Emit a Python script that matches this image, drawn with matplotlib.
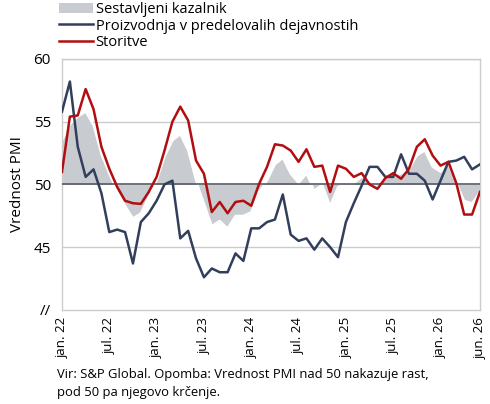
import numpy as np
import matplotlib
matplotlib.use("Agg")
import matplotlib.pyplot as plt

plt.rcParams['font.family'] = ['Open Sans', 'DejaVu Sans']

# monthly PMI, jan. 22 - jun. 26
composite = [53.5, 54.8, 55.4, 55.8, 54.7, 52.4, 50.85, 49.4, 48.3, 47.3,
             47.7, 49.0, 50.3, 52.2, 53.5, 54.0, 52.7, 50.3, 48.5, 46.7,
             47.1, 46.5, 47.5, 47.5, 47.8, 49.4, 50.3, 51.6, 52.1, 50.85,
             50.1, 50.85, 49.5, 50.0, 48.3, 49.8, 50.05, 50.1, 50.6, 50.3,
             49.8, 50.5, 50.7, 50.85, 51.2, 52.3, 52.7, 51.4, 51.0, 51.6,
             50.1, 48.7, 48.5, 49.4]
manufacturing = [55.8, 58.2, 53.0, 50.6, 51.2, 49.3, 46.2, 46.4, 46.2, 43.7,
                 47.0, 47.7, 48.7, 50.0, 50.3, 45.7, 46.3, 44.1, 42.6, 43.3,
                 43.0, 43.0, 44.5, 43.9, 46.5, 46.5, 47.0, 47.2, 49.2, 46.0,
                 45.5, 45.7, 44.8, 45.7, 45.0, 44.2, 47.0, 48.5, 49.9, 51.4,
                 51.4, 50.6, 50.6, 52.4, 50.85, 50.85, 50.3, 48.8, 50.3, 51.8,
                 51.9, 52.2, 51.2, 51.6]
services = [51.0, 55.4, 55.5, 57.6, 56.0, 53.0, 51.25, 49.8, 48.7, 48.5,
            48.45, 49.4, 50.6, 52.7, 55.0, 56.2, 55.1, 51.9, 50.85, 47.8,
            48.6, 47.7, 48.6, 48.7, 48.3, 50.05, 51.4, 53.2, 53.1, 52.7,
            51.8, 52.8, 51.4, 51.5, 49.4, 51.5, 51.25, 50.6, 50.9, 50.0,
            49.65, 50.5, 50.9, 50.45, 51.25, 53.0, 53.6, 52.3, 51.5, 51.8,
            50.1, 47.6, 47.6, 49.4]

tick_pos = [0, 6, 12, 18, 24, 30, 36, 42, 48, 53]
tick_labels = ['jan. 22', 'jul. 22', 'jan. 23', 'jul. 23', 'jan. 24',
               'jul. 24', 'jan. 25', 'jul. 25', 'jan. 26', 'jun. 26']

x = np.arange(len(composite))

fig = plt.figure(figsize=(4.9, 4.04), dpi=100)
ax = fig.add_axes([0.1265, 0.233, 0.853, 0.621])

ax.fill_between(x, composite, 50, color='#c8cbd0', lw=0,
                label='Sestavljeni kazalnik', zorder=1)
ax.plot(x, composite, color='white', lw=1.5, zorder=2)
for y in [45, 55, 60]:
    ax.axhline(y, color='#cccccc', lw=1, zorder=0)
ax.axhline(50, color='#555a63', lw=1.2, zorder=3)
ax.plot(x, manufacturing, color='#323f5c', lw=1.8, zorder=4,
        label='Proizvodnja v predelovalih dejavnostih')
ax.plot(x, services, color='#b20e12', lw=1.8, zorder=5, label='Storitve')

ax.set_xlim(0, len(composite) - 1)
ax.set_ylim(40, 60)
ax.set_yticks([40, 45, 50, 55, 60])
ax.set_yticklabels(['//', '45', '50', '55', '60'], fontsize=11)
ax.set_xticks(tick_pos)
ax.set_xticklabels(tick_labels, rotation=90, fontsize=9.5)
ax.tick_params(axis='y', length=0, pad=8)
ax.tick_params(axis='x', length=0, pad=5)
ax.set_ylabel('Vrednost PMI', fontsize=11, labelpad=6)

for s in ['left', 'right', 'bottom', 'top']:
    ax.spines[s].set_color('#cccccc')
    ax.spines[s].set_linewidth(1)

ax.legend(loc='lower left', bbox_to_anchor=(-0.01, 1.03), frameon=False,
          fontsize=10.5, handlelength=2.3, handletextpad=0.2,
          labelspacing=0.1, borderaxespad=0.1, borderpad=0)

fig.text(0.116, 0.088, 'Vir: S&P Global. Opomba: Vrednost PMI nad 50 nakazuje rast,\n'
         'pod 50 pa njegovo krčenje.', fontsize=9.4, va='top', linespacing=1.45)

fig.savefig('out.png', dpi=100)
